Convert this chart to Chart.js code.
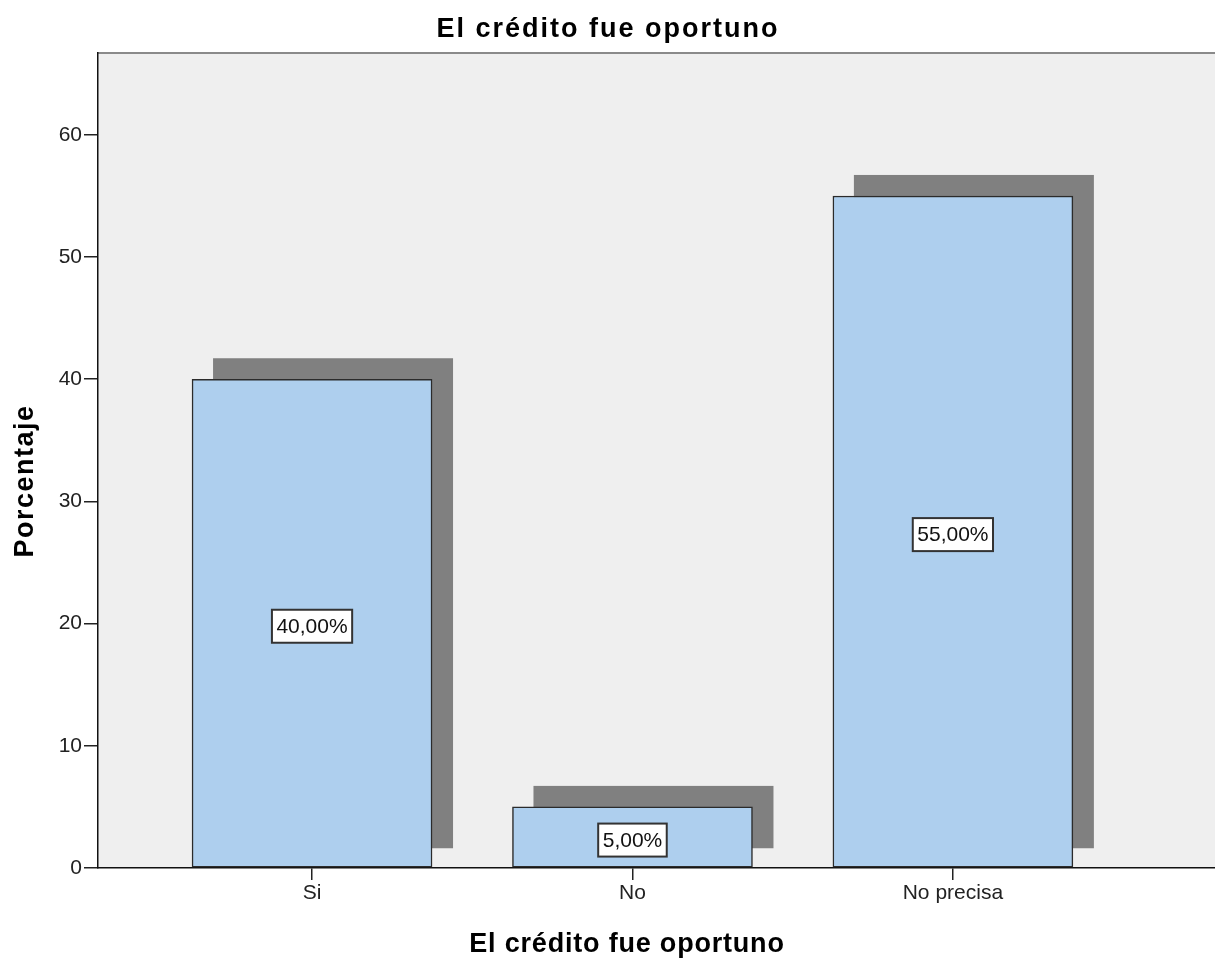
<!DOCTYPE html>
<html>
<head>
<meta charset="utf-8">
<script src="https://cdn.jsdelivr.net/npm/chart.js@4.4.1/dist/chart.umd.min.js"></script>
<style>
  body { margin: 0; background: #fff; }
  #wrap { width: 1215px; height: 958px; }
</style>
</head>
<body>
<div id="wrap"><canvas id="bar-chart" width="1215" height="958"></canvas></div>
<script>
// data
var categories = ["Si", "No", "No precisa"];
var percentages = [40, 5, 55];
var yTicks = [0, 10, 20, 30, 40, 50, 60];

var chartTitle = "El crédito fue oportuno";
var xTitle = "El crédito fue oportuno";
var yTitle = "Porcentaje";

var FONT = "'Liberation Sans', Arial, sans-serif";

// light grey plot background + thin top border
var plotBack = {
	id: "plotBack",
	beforeDraw: function (chart) {
		var a = chart.chartArea, ctx = chart.ctx;
		ctx.save();
		ctx.fillStyle = "#efefef";
		ctx.fillRect(a.left, a.top, a.right - a.left, a.bottom - a.top);
		ctx.strokeStyle = "#8a8a8a";
		ctx.lineWidth = 2;
		ctx.beginPath();
		ctx.moveTo(a.left, a.top);
		ctx.lineTo(a.right, a.top);
		ctx.stroke();
		ctx.restore();
	}
};

// SPSS style drop shadow behind each bar
var barShadow = {
	id: "barShadow",
	beforeDatasetsDraw: function (chart) {
		var ctx = chart.ctx, a = chart.chartArea;
		var meta = chart.getDatasetMeta(0);
		ctx.save();
		ctx.beginPath();
		ctx.rect(a.left, a.top, a.right - a.left, a.bottom - a.top);
		ctx.clip();
		ctx.fillStyle = "#808080";
		meta.data.forEach(function (bar) {
			var p = bar.getProps(["x", "y", "base", "width"], true);
			ctx.fillRect(p.x - p.width / 2 + 21, p.y - 21, p.width, (p.base - 19) - (p.y - 21));
		});
		ctx.restore();
	}
};

// boxed value labels in the middle of each bar
var boxLabels = {
	id: "boxLabels",
	afterDatasetsDraw: function (chart) {
		var ctx = chart.ctx;
		var meta = chart.getDatasetMeta(0);
		ctx.save();
		ctx.font = "21px " + FONT;
		ctx.textAlign = "center";
		ctx.textBaseline = "middle";
		meta.data.forEach(function (bar, i) {
			var p = bar.getProps(["x", "y", "base"], true);
			var txt = percentages[i].toFixed(2).replace(".", ",") + "%";
			var cy = (p.y + p.base) / 2 + 3;
			var w = ctx.measureText(txt).width + 9;
			var h = 33;
			ctx.fillStyle = "#ffffff";
			ctx.fillRect(p.x - w / 2, cy - h / 2, w, h);
			ctx.strokeStyle = "#333333";
			ctx.lineWidth = 2;
			ctx.strokeRect(p.x - w / 2, cy - h / 2, w, h);
			ctx.fillStyle = "#111111";
			ctx.fillText(txt, p.x, cy + 1);
		});
		ctx.restore();
	}
};

// titles drawn by hand (slightly wide letter spacing like the original)
var titles = {
	id: "titles",
	afterDraw: function (chart) {
		var ctx = chart.ctx;
		ctx.save();
		ctx.fillStyle = "#000";
		ctx.textAlign = "center";
		ctx.textBaseline = "alphabetic";
		ctx.font = "bold 27px " + FONT;

		ctx.letterSpacing = "2px";
		ctx.fillText(chartTitle, 608, 37);

		ctx.letterSpacing = "0.8px";
		ctx.fillText(xTitle, 627, 952);

		ctx.letterSpacing = "1.5px";
		ctx.translate(33, 481);
		ctx.rotate(-Math.PI / 2);
		ctx.fillText(yTitle, 0, 0);
		ctx.restore();
	}
};

var data = {
	datasets: [
		{
			label: "Porcentaje",
			data: categories.map(function (c, i) { return { x: i, y: percentages[i] }; }),
			backgroundColor: "#aecfee",
			borderColor: "#2b2b2b",
			borderWidth: 1.5,
			borderSkipped: false,
			barThickness: 240
		}
	]
};

var options = {
	responsive: false,
	animation: false,
	layout: { padding: { left: 0, right: 0, top: 53, bottom: 0 } },
	plugins: {
		legend: { display: false },
		tooltip: { enabled: false },
		title: { display: false }
	},
	scales: {
		x: {
			type: "linear",
			offset: false,
			min: -0.668,
			max: 2.818,
			afterBuildTicks: function (scale) {
				scale.ticks = categories.map(function (c, i) { return { value: i }; });
			},
			afterFit: function (scale) { scale.height = 90; },
			ticks: {
				autoSkip: false,
				maxRotation: 0,
				padding: 1,
				color: "#222",
				font: { family: FONT, size: 21 },
				callback: function (v) { return categories[v]; }
			},
			grid: { display: true, offset: false, drawOnChartArea: false, tickLength: 12, color: "#222", lineWidth: 1.5 },
			border: { display: true, color: "#111", width: 1.5 }
		},
		y: {
			min: 0,
			max: 66.7,
			afterBuildTicks: function (scale) {
				scale.ticks = yTicks.map(function (v) { return { value: v }; });
			},
			afterFit: function (scale) { scale.width = 98; },
			ticks: {
				padding: 2,
				color: "#222",
				font: { family: FONT, size: 21 }
			},
			grid: { display: true, drawOnChartArea: false, tickLength: 14, color: "#222", lineWidth: 1.5 },
			border: { display: true, color: "#111", width: 1.5 }
		}
	}
};

var chart = new Chart(document.getElementById("bar-chart"), {
	type: "bar",
	data: data,
	options: options,
	plugins: [plotBack, barShadow, boxLabels, titles]
});
</script>
</body>
</html>
